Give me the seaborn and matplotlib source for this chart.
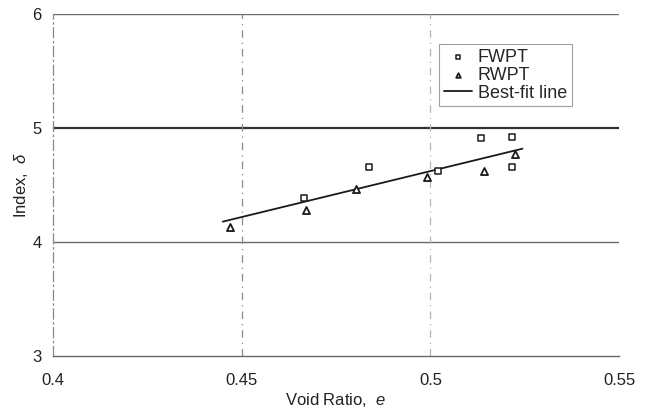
import matplotlib
matplotlib.use("Agg")
import matplotlib.pyplot as plt
import seaborn as sns
import pandas as pd

# data
fwpt_x = [0.4665, 0.4836, 0.5021, 0.5135, 0.5217, 0.5217]
fwpt_y = [4.39, 4.655, 4.625, 4.915, 4.92, 4.66]
rwpt_x = [0.447, 0.4671, 0.4803, 0.4990, 0.5143, 0.5224]
rwpt_y = [4.134, 4.28, 4.465, 4.573, 4.625, 4.77]
fit_x = [0.445, 0.5244]
fit_y = [4.18, 4.82]
x_ticks = [0.4, 0.45, 0.5, 0.55]
x_tick_labels = ["0.4", "0.45", "0.5", "0.55"]
y_ticks = [3, 4, 5, 6]

sns.set_theme(style="white")
plt.rcParams["font.family"] = ["Liberation Sans", "DejaVu Sans"]
plt.rcParams["mathtext.fontset"] = "custom"
plt.rcParams["mathtext.it"] = "Liberation Sans:italic"
plt.rcParams["mathtext.rm"] = "Liberation Sans"

fig = plt.figure(figsize=(6.5, 4.17), dpi=100)
ax = fig.add_axes([0.0815, 0.146, 0.871, 0.82])

# grid-like reference lines
for yv, lw, c in [(4, 1.0, "#6a6a6a"), (5, 1.6, "#333333"), (6, 1.0, "#6a6a6a")]:
    ax.axhline(yv, color=c, lw=lw, zorder=0)
for xv, c in [(0.45, "#8a8a8a"), (0.5, "#b5b5b5")]:
    ax.axvline(xv, color=c, lw=0.9, ls=(0, (6, 4, 1, 4)), zorder=0)

df_f = pd.DataFrame({"x": fwpt_x, "y": fwpt_y})
df_r = pd.DataFrame({"x": rwpt_x, "y": rwpt_y})
df_l = pd.DataFrame({"x": fit_x, "y": fit_y})

sns.lineplot(data=df_l, x="x", y="y", color="#1a1a1a", lw=1.3, ax=ax,
             label="Best-fit line", zorder=3)
sns.scatterplot(data=df_f, x="x", y="y", marker="s", s=22, color="white",
                edgecolor="#1a1a1a", linewidth=1.1, ax=ax, label="FWPT", zorder=4)
sns.scatterplot(data=df_r, x="x", y="y", marker="^", s=26, color="white",
                edgecolor="#1a1a1a", linewidth=1.3, ax=ax, label="RWPT", zorder=4)

ax.set_xlim(0.4, 0.55)
ax.set_ylim(3, 6)
ax.set_xticks(x_ticks)
ax.set_xticklabels(x_tick_labels)
ax.set_yticks(y_ticks)
ax.tick_params(axis="both", length=0, labelsize=12, colors="#222222", pad=12)
ax.tick_params(axis="y", pad=8)

ax.set_xlabel(r"Void Ratio,  $\it{e}$", fontsize=12, color="#222222", labelpad=2)
ax.set_ylabel(r"Index,  $\it{\delta}$", fontsize=12, color="#222222", labelpad=2)

for s in ["top", "right"]:
    ax.spines[s].set_visible(False)
ax.spines["bottom"].set_color("#666666")
ax.spines["bottom"].set_linewidth(1.0)
ax.spines["left"].set_color("#888888")
ax.spines["left"].set_linewidth(0.9)
ax.spines["left"].set_linestyle((0, (8, 3, 1, 3)))

handles, labels = ax.get_legend_handles_labels()
order = [labels.index(l) for l in ["FWPT", "RWPT", "Best-fit line"]]
leg = ax.legend([handles[i] for i in order], [labels[i] for i in order],
                loc="upper left", bbox_to_anchor=(0.682, 0.912),
                fontsize=13, frameon=True, fancybox=False, borderpad=0.25,
                labelspacing=0.05, handlelength=1.6, handletextpad=0.3,
                borderaxespad=0, markerscale=0.65)
leg.get_frame().set_edgecolor("#888888")
leg.get_frame().set_linewidth(0.8)

fig.savefig("out.png", dpi=100)
